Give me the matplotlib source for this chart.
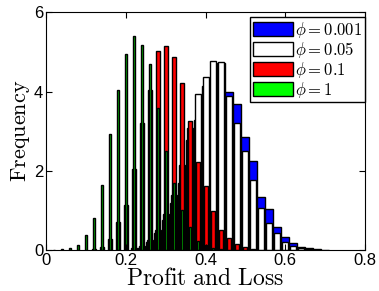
import matplotlib
matplotlib.use("Agg")
import matplotlib.pyplot as plt
import numpy as np

plt.rcParams["mathtext.fontset"] = "cm"
plt.rcParams["font.family"] = ["Liberation Sans", "DejaVu Sans"]

# Bin centres, spacing 0.02
centers = np.arange(0, 40) * 0.02

# Heights per bin index (k -> value)
blue_k = list(range(12, 36))
blue_h = [0.05, 0.2, 0.43, 0.76, 1.19, 1.68, 2.78, 3.28, 4.14, 4.37, 4.72, 3.98,
          3.68, 2.86, 2.25, 1.35, 1.04, 0.59, 0.34, 0.17, 0.08, 0.04, 0.02, 0.01]

white_k = list(range(11, 35))
white_h = [0.05, 0.1, 0.25, 0.5, 0.9, 1.39, 2.15, 3.08, 3.93, 4.36, 4.78, 4.76,
           3.88, 3.2, 2.5, 1.77, 1.05, 0.69, 0.42, 0.21, 0.1, 0.05, 0.02, 0.01]

red_k = list(range(6, 27))
red_h = [0.02, 0.08, 0.27, 0.71, 1.14, 2.05, 3.2, 4.04, 5.02, 5.15, 4.88, 4.23,
         3.25, 2.23, 1.62, 0.99, 0.5, 0.3, 0.15, 0.07, 0.03]

green_k = list(range(1, 23))
green_h = [0.01, 0.02, 0.04, 0.12, 0.38, 0.8, 1.64, 2.93, 4.04, 4.94, 5.4, 5.18,
           4.7, 3.58, 2.51, 1.68, 1.01, 0.57, 0.23, 0.13, 0.06, 0.02]

labels = [r"$\phi = 0.001$", r"$\phi = 0.05$", r"$\phi = 0.1$", r"$\phi = 1$"]

fig = plt.figure(figsize=(3.79, 2.91), dpi=100)
ax = fig.add_axes([0.1214, 0.1409, 0.8417, 0.8162])

w = 0.02
ax.bar(centers[blue_k], blue_h, width=w, color="#0000ff", edgecolor="k", lw=1.0, label=labels[0])
ax.bar(centers[white_k], white_h, width=0.75 * w, color="white", edgecolor="k", lw=1.0, label=labels[1])
ax.bar(centers[red_k], red_h, width=0.5 * w, color="#ff0000", edgecolor="k", lw=1.0, label=labels[2])
ax.bar(centers[green_k], green_h, width=0.25 * w, color="#00c000", edgecolor="k", lw=1.0, label=labels[3])

ax.set_xlim(0, 0.8)
ax.set_ylim(0, 6)
ax.set_xticks([0, 0.2, 0.4, 0.6, 0.8])
ax.set_xticklabels(["0", "0.2", "0.4", "0.6", "0.8"])
ax.set_yticks([0, 2, 4, 6])
ax.tick_params(direction="in", top=True, right=True, labelsize=12, length=4, pad=2)
ax.set_xlabel(r"$\mathrm{Profit\ and\ Loss}$", fontsize=17, labelpad=0)
ax.set_ylabel(r"$\mathrm{Frequency}$", fontsize=16, labelpad=1)

leg = ax.legend(loc="upper right", bbox_to_anchor=(1.0, 0.98), fontsize=12,
                fancybox=False, framealpha=1, edgecolor="k", borderpad=0.15,
                labelspacing=0.0, handlelength=2.4, handleheight=0.85,
                handletextpad=0.15, borderaxespad=0.0)
leg.get_frame().set_linewidth(1.0)
for h in leg.legend_handles:
    h.set_edgecolor("k")
leg.legend_handles[3].set_facecolor("#00ff00")

fig.savefig("out.png", dpi=100)
